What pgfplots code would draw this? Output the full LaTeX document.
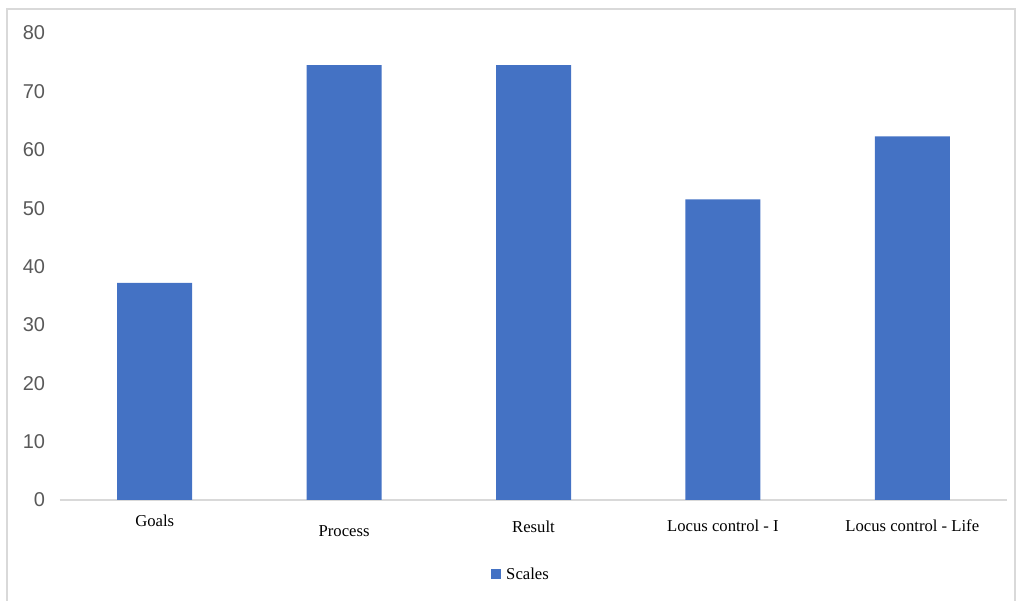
\documentclass[border=0pt]{standalone}
\usepackage{fontspec}
\setmainfont{Liberation Serif}
\newfontfamily\arialfont{Liberation Sans}
\usepackage{pgfplots}
\pgfplotsset{compat=1.18}
\definecolor{barblue}{HTML}{4472C4}
\definecolor{axisgray}{HTML}{D9D9D9}
\definecolor{ticktext}{HTML}{595959}

\begin{document}
\begin{tikzpicture}[x=0.75pt,y=0.75pt]
\begin{axis}[
    scale only axis,
    width=710.25pt, height=350.25pt,
    at={(0,0)}, anchor=south west,
    ybar, bar width=56.25pt,
    xmin=-0.5, xmax=4.5, ymin=0, ymax=80,
    xtick=data,
    xticklabels={Goals,\raisebox{-7.5pt}{Process},\raisebox{-4.5pt}{Result},\raisebox{-3.75pt}{Locus control - I},\raisebox{-3.75pt}{Locus control - Life}},
    ytick={0,10,...,80},
    axis lines*=left,
    y axis line style={draw=none},
    x axis line style={axisgray, line width=1.2pt, -},
    major tick length=0pt,
    xticklabel style={font=\fontsize{12.5}{14}\selectfont, anchor=base, yshift=-20pt, inner sep=0pt},
    yticklabel style={font=\arialfont\fontsize{15}{17}\selectfont, text=ticktext, anchor=east, inner sep=0pt, xshift=-11pt},
    /pgf/number format/assume math mode=true,
    legend style={at={(0.487,-0.16)}, anchor=center, draw=none, font=\fontsize{12.5}{14}\selectfont, inner sep=0pt},
    legend image code/.code={\fill[barblue] (0pt,-3.5pt) rectangle (7.5pt,4pt);},
]
\addplot[fill=barblue, draw=none] coordinates {(0,37.2) (1,74.5) (2,74.5) (3,51.5) (4,62.3)};
\legend{\hspace{2pt}Scales}
\end{axis}
\draw[axisgray, line width=1.5pt] (-53,-101) -- (-53,491) -- (955,491) -- (955,-101);
\path[use as bounding box] (-60,-101) rectangle (960,500);
\end{tikzpicture}
\end{document}
